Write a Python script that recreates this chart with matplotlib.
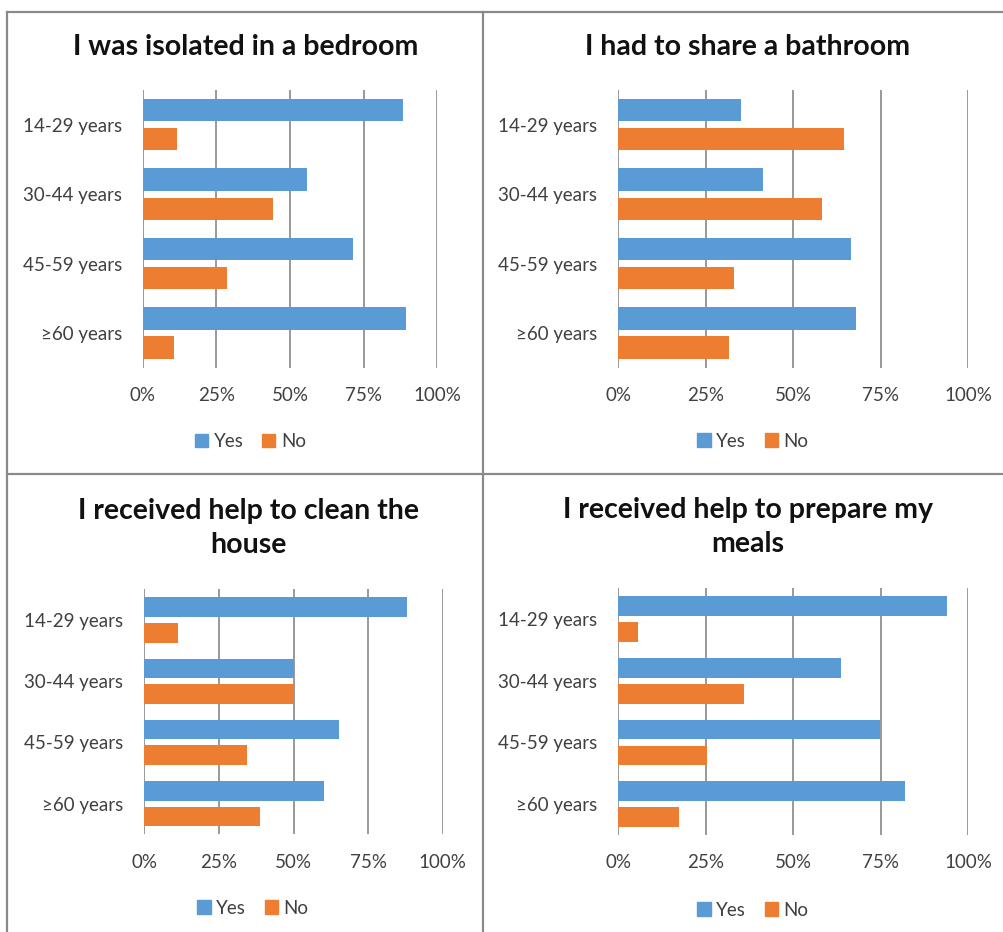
import matplotlib
matplotlib.use("Agg")
import matplotlib.pyplot as plt
from matplotlib.lines import Line2D
from matplotlib.patches import Patch
import numpy as np

W, H = 1004, 932

categories = ["14-29 years", "30-44 years", "45-59 years", "\u226560 years"]
series_names = ["Yes", "No"]
titles = ["I was isolated in a bedroom",
          "I had to share a bathroom",
          "I received help to clean the\nhouse",
          "I received help to prepare my\nmeals"]

isolated_yes = [88.3, 55.7, 71.5, 89.5]
isolated_no = [11.5, 44.3, 28.5, 10.5]
bathroom_yes = [35.0, 41.3, 66.4, 67.8]
bathroom_no = [64.6, 58.2, 33.1, 31.7]
clean_yes = [88.1, 50.0, 65.2, 60.2]
clean_no = [11.4, 50.0, 34.5, 38.9]
meals_yes = [93.8, 63.6, 74.8, 82.0]
meals_no = [5.6, 35.8, 25.3, 17.4]

xticks = [0, 25, 50, 75, 100]
xticklabels = ["0%", "25%", "50%", "75%", "100%"]

data = [(isolated_yes, isolated_no), (bathroom_yes, bathroom_no),
        (clean_yes, clean_no), (meals_yes, meals_no)]

BLUE = "#5B9BD5"
ORANGE = "#ED7D31"
GRID = "#878787"
TEXT = "#404040"

plt.rcParams['font.family'] = ['Lato', 'DejaVu Sans']

fig = plt.figure(figsize=(W / 100, H / 100), dpi=100)

# axes boxes in pixels: x0, x1, ytop, ybottom
boxes = [(142.7, 437.3, 90, 367.7),
         (618.3, 968.3, 90, 367.7),
         (144.3, 442.7, 589.3, 834.3),
         (618.3, 968.3, 588.3, 835)]
title_pos = [(246, 46.7), (747.3, 46.7), (248.3, 528), (747.8, 527)]
legend_pos = [(250.5, 442), (753, 441), (253, 908), (753, 910)]

for i, (yes, no) in enumerate(data):
    x0, x1, yt, yb = boxes[i]
    ax = fig.add_axes([x0 / W, 1 - yb / H, (x1 - x0) / W, (yb - yt) / H])
    y = np.arange(len(categories))
    ax.barh(y - 0.21, yes, height=0.32, color=BLUE, zorder=3)
    ax.barh(y + 0.21, no, height=0.32, color=ORANGE, zorder=3)
    ax.set_xlim(0, 100)
    ax.set_ylim(len(categories) - 0.5, -0.5)
    ax.set_xticks(xticks)
    ax.set_xticklabels(xticklabels)
    ax.set_yticks(y)
    ax.set_yticklabels(categories)
    for s in ax.spines.values():
        s.set_visible(False)
    for xv in xticks:
        ax.axvline(xv, color=GRID, lw=1.2, zorder=1)
    ax.tick_params(axis='both', length=0, labelsize=13.5, labelcolor=TEXT)
    ax.tick_params(axis='x', pad=14)
    ax.tick_params(axis='y', pad=15)
    ax.set_facecolor('none')

    tx, ty = title_pos[i]
    fig.text(tx / W, 1 - ty / H, titles[i], ha='center', va='center',
             fontsize=20.5, fontweight='bold', color='#111111', linespacing=1.4)

    lx, ly = legend_pos[i]
    handles = [Patch(color=BLUE, label=series_names[0]),
               Patch(color=ORANGE, label=series_names[1])]
    fig.legend(handles=handles, loc='center', bbox_to_anchor=(lx / W, 1 - ly / H),
               ncol=2, frameon=False, fontsize=13.5, handlelength=0.7,
               handleheight=0.7, handletextpad=0.3, columnspacing=1.0,
               labelcolor=TEXT)

# panel borders
BC = "#8a8a8a"
lines = [((7.5, 1004), (12, 12)),
         ((7.5, 1004), (474, 474)),
         ((7.5, 7.5), (12, 932)),
         ((483.5, 483.5), (12, 932))]
for xs, ys in lines:
    fig.add_artist(Line2D([xs[0] / W, xs[1] / W], [1 - ys[0] / H, 1 - ys[1] / H],
                          transform=fig.transFigure, color=BC, lw=1.6))

fig.savefig("out.png", dpi=100, facecolor='white')
